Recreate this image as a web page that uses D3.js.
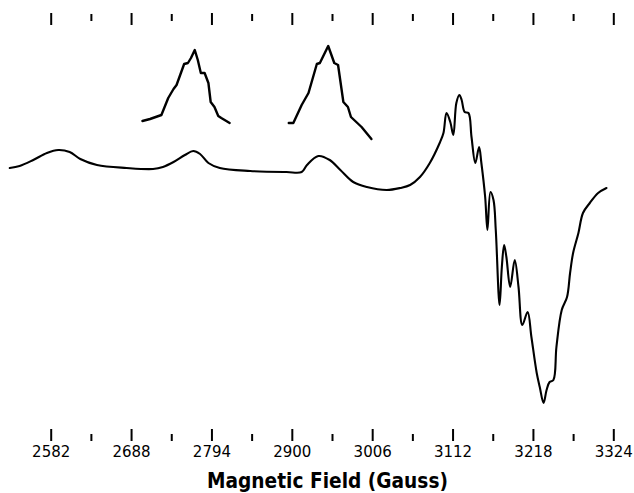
<!DOCTYPE html>
<html>
<head>
<meta charset="utf-8">
<script src="https://cdn.jsdelivr.net/npm/d3@7"></script>
<style>
  html, body { margin: 0; padding: 0; background: #fff; }
  svg { display: block; }
</style>
</head>
<body>
<svg id="chart" width="634" height="493"></svg>
<script>
// ---- Data (magnetic field in Gauss, signal in arbitrary units) ----
const majorTicks = [2582, 2688, 2794, 2900, 3006, 3112, 3218, 3324];
const minorTicks = [2635, 2741, 2847, 2953, 3059, 3165, 3271];

const spectrumField = [2528, 2541, 2559, 2577, 2592, 2607, 2621, 2643, 2682, 2717, 2730, 2744, 2759, 2770, 2779, 2790, 2805, 2845, 2893, 2913, 2920, 2935, 2950, 2964, 2981, 2999, 3025, 3043, 3056, 3069, 3082, 3095, 3100, 3104, 3109, 3113, 3117, 3121, 3124, 3128, 3133, 3137, 3142, 3147, 3150, 3155, 3158, 3162, 3166, 3169, 3174, 3177, 3180, 3183, 3188, 3194, 3199, 3204, 3211, 3216, 3223, 3227, 3232, 3236, 3240, 3245, 3249, 3256, 3263, 3267, 3271, 3278, 3284, 3293, 3304, 3315];
const spectrumSignal = [12, 14, 20, 27, 30, 28, 21, 15, 12, 11, 13, 18, 25, 29, 26, 17, 12, 9, 8, 8, 15, 24, 20, 10, -2, -7, -10, -8, -5, 3, 17, 37, 47, 67, 58, 45, 77, 85, 80, 68, 67, 43, 17, 33, 17, -17, -50, -12, -20, -50, -125, -87, -65, -77, -107, -80, -107, -145, -132, -157, -193, -207, -223, -210, -202, -200, -167, -130, -117, -93, -73, -53, -33, -23, -13, -8];

const inset1Field = [2703, 2713, 2728, 2737, 2744, 2748, 2758, 2763, 2767, 2772, 2776, 2780, 2785, 2790, 2793, 2798, 2803, 2807, 2818];
const inset1Signal = [59, 61, 65, 82, 91, 95, 116, 117, 122, 130, 120, 107, 107, 97, 78, 73, 64, 62, 57];

const inset2Field = [2896, 2902, 2913, 2922, 2933, 2937, 2948, 2956, 2961, 2968, 2974, 2978, 2992, 3005];
const inset2Signal = [57, 57, 75, 87, 116, 117, 134, 117, 115, 78, 73, 63, 53, 41];

const xLabel = "Magnetic Field (Gauss)";

// ---- Scales ----
const svg = d3.select("#chart");
const x = d3.scaleLinear().domain([2582, 3324]).range([50.7, 613.3]);
const y = d3.scaleLinear().domain([-230, 180]).range([410, 0]);

const zip = (xs, ys) => xs.map((v, i) => [v, ys[i]]);

const lineSmooth = d3.line()
  .x(d => x(d[0])).y(d => y(d[1]))
  .curve(d3.curveCatmullRom.alpha(0.5));

svg.append("path")
  .datum(zip(spectrumField, spectrumSignal))
  .attr("d", lineSmooth)
  .attr("fill", "none").attr("stroke", "#000")
  .attr("stroke-width", 2.1).attr("stroke-linejoin", "round").attr("stroke-linecap", "round");

const lineInset = d3.line()
  .x(d => x(d[0])).y(d => y(d[1]))
  .curve(d3.curveLinear);

[zip(inset1Field, inset1Signal), zip(inset2Field, inset2Signal)].forEach(dat => {
  svg.append("path").datum(dat).attr("d", lineInset)
    .attr("fill", "none").attr("stroke", "#000")
    .attr("stroke-width", 2.4).attr("stroke-linejoin", "round").attr("stroke-linecap", "round");
});

// ---- Axes ----
function styleAxis(g) {
  g.select(".domain").remove();
  g.selectAll(".tick line").attr("stroke", "#000").attr("stroke-width", 2);
  g.selectAll(".tick text").attr("fill", "#000")
    .style("font-family", "'DejaVu Sans', sans-serif").style("font-size", "15px");
}

svg.append("g").attr("transform", "translate(0,429)")
  .call(d3.axisBottom(x).tickValues(majorTicks).tickSize(12).tickPadding(5).tickFormat(d3.format("d")))
  .call(styleAxis);
svg.append("g").attr("transform", "translate(0,434)")
  .call(d3.axisBottom(x).tickValues(minorTicks).tickSize(7).tickFormat(""))
  .call(styleAxis);

svg.append("g").attr("transform", "translate(0,25)")
  .call(d3.axisTop(x).tickValues(majorTicks).tickSize(12).tickFormat(""))
  .call(styleAxis);
svg.append("g").attr("transform", "translate(0,21)")
  .call(d3.axisTop(x).tickValues(minorTicks).tickSize(7).tickFormat(""))
  .call(styleAxis);

svg.append("text")
  .attr("x", 327.5).attr("y", 488)
  .attr("text-anchor", "middle")
  .attr("textLength", 241).attr("lengthAdjust", "spacingAndGlyphs")
  .style("font-family", "'DejaVu Sans', sans-serif")
  .style("font-size", "22px")
  .style("font-weight", "bold")
  .attr("fill", "#000")
  .text(xLabel);
</script>
</body>
</html>
